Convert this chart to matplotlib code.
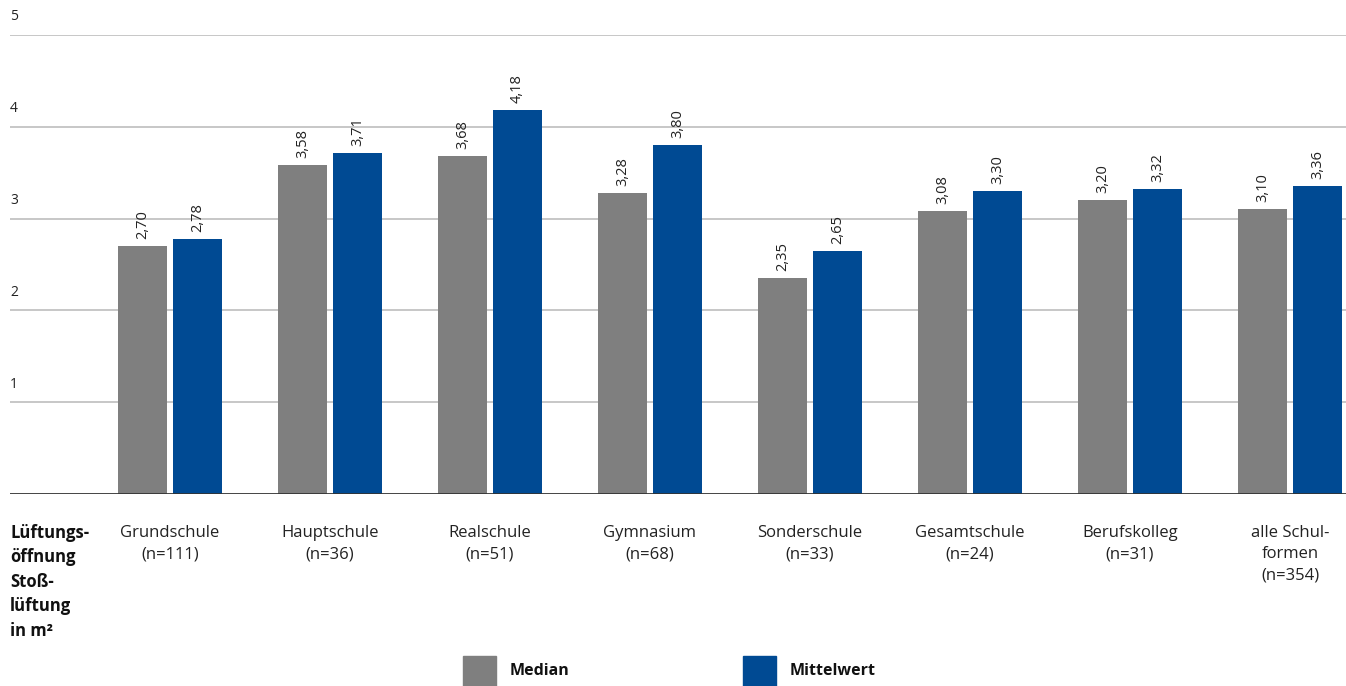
import matplotlib
matplotlib.use("Agg")
import matplotlib.pyplot as plt
from matplotlib.transforms import blended_transform_factory
from matplotlib.patches import Rectangle

plt.rcParams['font.family'] = ['Open Sans', 'DejaVu Sans']

categories = ["Grundschule\n(n=111)", "Hauptschule\n(n=36)", "Realschule\n(n=51)",
              "Gymnasium\n(n=68)", "Sonderschule\n(n=33)", "Gesamtschule\n(n=24)",
              "Berufskolleg\n(n=31)", "alle Schul-\nformen\n(n=354)"]
median = [2.70, 3.58, 3.68, 3.28, 2.35, 3.08, 3.20, 3.10]
mittelwert = [2.78, 3.71, 4.18, 3.80, 2.65, 3.30, 3.32, 3.36]
y_ticks = [1, 2, 3, 4, 5]
series_names = ["Median", "Mittelwert"]
colors = ["#7f7f7f", "#004a93"]

W, H = 1346, 686
fig = plt.figure(figsize=(W/100, H/100), dpi=100)
ax = fig.add_axes([10/W, 1-494/H, 1-10/W, (494-35)/H])
ax.set_xlim(-1.0, 7.35)
ax.set_ylim(0, 5)

for v in y_ticks:
    ax.axhline(v, color="#c3c3c3", lw=1.3, zorder=0)
ax.axhline(0, color="#333333", lw=2, zorder=3)

bw = 0.31
off = 0.172
xs = list(range(len(categories)))
for i, (series, col) in enumerate(zip([median, mittelwert], colors)):
    sign = -1 if i == 0 else 1
    pos = [x + sign*off for x in xs]
    ax.bar(pos, series, width=bw, color=col, zorder=2)
    for p, v in zip(pos, series):
        ax.annotate(f"{v:.2f}".replace(".", ","), (p, v), xytext=(0, 5),
                    textcoords="offset points", rotation=90, ha="center",
                    va="bottom", fontsize=10.5, color="#222222")

ax.set_xticks([])
ax.set_yticks([])
for s in ax.spines.values():
    s.set_visible(False)

# y tick labels above gridlines
tr = blended_transform_factory(fig.transFigure, ax.transData)
for v in y_ticks:
    ax.annotate(str(v), (10/W, v), xycoords=tr, xytext=(0, 13),
                textcoords="offset points", ha="left", va="center",
                fontsize=10, color="#222222")

# category labels
trx = blended_transform_factory(ax.transData, fig.transFigure)
for x, c in zip(xs, categories):
    ax.text(x, 1-525/H, c, transform=trx, ha="center", va="top",
            fontsize=12, color="#222222", linespacing=1.43)

fig.text(10/W, 1-524/H, "Lüftungs-\nöffnung\nStoß-\nlüftung\nin m²",
         ha="left", va="top", fontsize=12, fontweight="bold",
         color="#111111", linespacing=1.46)

# legend
for name, col, x0 in zip(series_names, colors, [463, 743]):
    fig.patches.append(Rectangle((x0/W, 0), 33/W, 30/H, transform=fig.transFigure,
                                 color=col, figure=fig))
    fig.text((x0+47)/W, 1-671/H, name, ha="left", va="center",
             fontsize=11.5, fontweight="bold", color="#111111")

fig.savefig("out.png", dpi=100, facecolor="white")
